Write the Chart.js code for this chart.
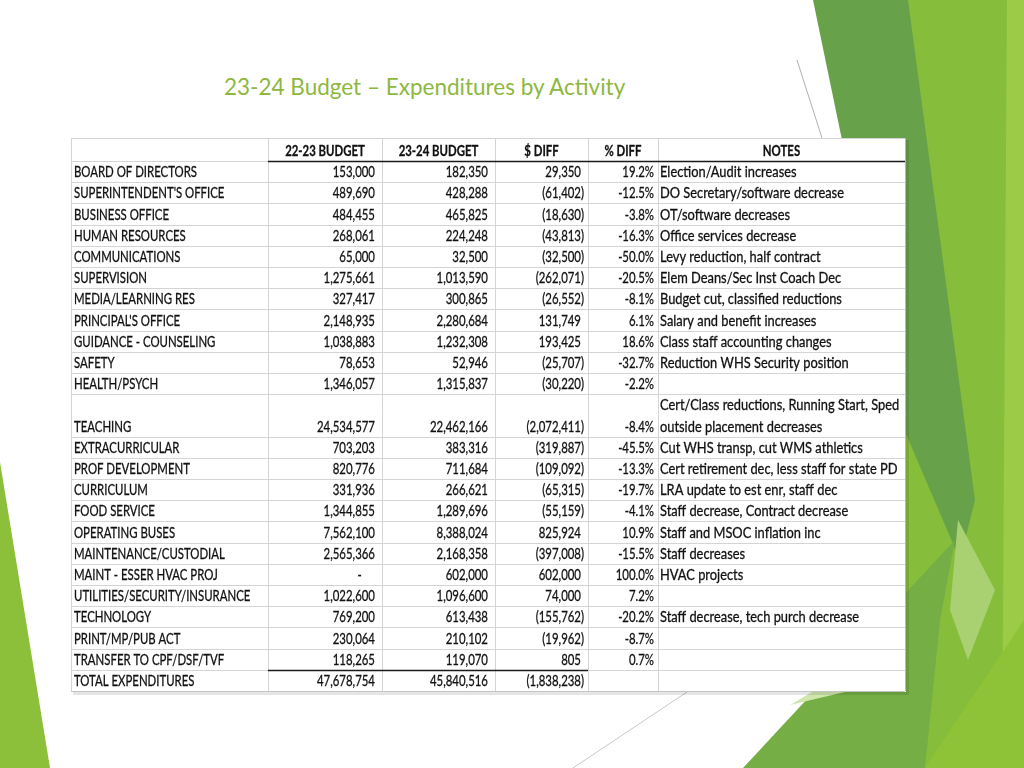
<!DOCTYPE html>
<html>
<head>
<meta charset="utf-8">
<script src="https://cdn.jsdelivr.net/npm/chart.js@4.4.0/dist/chart.umd.min.js"></script>
<style>
  html, body { margin: 0; padding: 0; background: #fff; width: 1024px; height: 768px; overflow: hidden; }
  #bg { position: absolute; left: 0; top: 0; }
  #title {
    position: absolute; left: 224px; top: 76px;
    font-family: Lato, "Open Sans", sans-serif; font-size: 22.5px; line-height: 22px;
    color: #8db83d; white-space: nowrap;
  }
  #wrap { position: absolute; left: 60px; top: 128px; width: 860px; height: 575px; }
</style>
</head>
<body>
<svg id="bg" width="1024" height="768" viewBox="0 0 1024 768">
  <polygon points="0,462 50,768 0,768" fill="#8dc03a"/>
  <polygon points="905,0 1024,0 1024,768 905,768" fill="#86bd3b"/>
  <polygon points="1007,0 1024,0 1024,768 1002,768" fill="#9ccb48"/>
  <polygon points="813,0 908,0 975,500 960,560 900,420" fill="#67a14a"/>
  <polygon points="958,520 995,590 968,660 950,610" fill="#a9d172"/>
  <polygon points="743,768 955,540 940,620 925,768" fill="#74ae45"/>
  <polygon points="925,768 1024,620 1024,768" fill="#8fc337"/>
  <polygon points="790,705 812,692 845,692" fill="#cfe6ad"/>
  <line x1="797" y1="60" x2="822" y2="138" stroke="#b0b0b0" stroke-width="1"/>
  <line x1="573" y1="768" x2="690" y2="690" stroke="#c8c8c8" stroke-width="1"/>
</svg>
<div id="title">23-24 Budget – Expenditures by Activity</div>
<div id="wrap"><canvas id="budgetTable" width="860" height="575"></canvas></div>

<script>
// table data
const headers = ["", "22-23 BUDGET", "23-24 BUDGET", "$ DIFF", "% DIFF", "NOTES"];

const activities = [
    "BOARD OF DIRECTORS", "SUPERINTENDENT'S OFFICE", "BUSINESS OFFICE", "HUMAN RESOURCES",
    "COMMUNICATIONS", "SUPERVISION", "MEDIA/LEARNING RES", "PRINCIPAL'S OFFICE",
    "GUIDANCE - COUNSELING", "SAFETY", "HEALTH/PSYCH", "TEACHING", "EXTRACURRICULAR",
    "PROF DEVELOPMENT", "CURRICULUM", "FOOD SERVICE", "OPERATING BUSES",
    "MAINTENANCE/CUSTODIAL", "MAINT - ESSER HVAC PROJ", "UTILITIES/SECURITY/INSURANCE",
    "TECHNOLOGY", "PRINT/MP/PUB ACT", "TRANSFER TO CPF/DSF/TVF", "TOTAL EXPENDITURES",
];

const budget2223 = [
    153000, 489690, 484455, 268061, 65000, 1275661, 327417, 2148935, 1038883, 78653,
    1346057, 24534577, 703203, 820776, 331936, 1344855, 7562100, 2565366, 0, 1022600,
    769200, 230064, 118265, 47678754,
];

const budget2324 = [
    182350, 428288, 465825, 224248, 32500, 1013590, 300865, 2280684, 1232308, 52946,
    1315837, 22462166, 383316, 711684, 266621, 1289696, 8388024, 2168358, 602000, 1096600,
    613438, 210102, 119070, 45840516,
];

const dollarDiff = [
    29350, -61402, -18630, -43813, -32500, -262071, -26552, 131749, 193425, -25707,
    -30220, -2072411, -319887, -109092, -65315, -55159, 825924, -397008, 602000, 74000,
    -155762, -19962, 805, -1838238,
];

const percentDiff = [
    19.2, -12.5, -3.8, -16.3, -50.0, -20.5, -8.1, 6.1, 18.6, -32.7,
    -2.2, -8.4, -45.5, -13.3, -19.7, -4.1, 10.9, -15.5, 100.0, 7.2,
    -20.2, -8.7, 0.7, null,
];

const notes = [
    "Election/Audit increases", "DO Secretary/software decrease", "OT/software decreases",
    "Office services decrease", "Levy reduction, half contract", "Elem Deans/Sec Inst Coach Dec",
    "Budget cut, classified reductions", "Salary and benefit increases",
    "Class staff accounting changes", "Reduction WHS Security position", "",
    ["Cert/Class reductions, Running Start, Sped", "outside placement decreases"],
    "Cut WHS transp, cut WMS athletics", "Cert retirement dec, less staff for state PD",
    "LRA update to est enr, staff dec", "Staff decrease, Contract decrease",
    "Staff and MSOC inflation inc", "Staff decreases", "HVAC projects", "",
    "Staff decrease, tech purch decrease", "", "", "",
];

// layout
const colEdges = [0, 197, 311, 423, 516, 586, 833];
const headerH = 23;
const rowH = 21.2;
const rowSpans = notes.map((n) => (Array.isArray(n) ? 2 : 1));
const totalH = headerH + rowSpans.reduce((a, b) => a + b, 0) * rowH;

const FONT = "Lato, 'Open Sans', sans-serif";
const FONT_PX = 15.4;
const SCALE_X = 0.74;      // caps and digits
const NOTE_SCALE_X = 0.835; // mixed-case notes run wider in the original
const PAD = 4;

function money(v) {
    const s = Math.abs(v).toLocaleString("en-US");
    return v < 0 ? "(" + s + ")" : s;
}

const tablePlugin = {
    id: "tablePlugin",
    beforeDraw(chart) {
        const { ctx, chartArea: a } = chart;
        ctx.save();
        ctx.fillStyle = "rgba(0,0,0,0.10)";
        ctx.fillRect(a.left + 2, a.top + 2, a.right - a.left + 2, a.bottom - a.top + 2);
        ctx.fillStyle = "#ffffff";
        ctx.fillRect(a.left, a.top, a.right - a.left + 1, a.bottom - a.top + 1);
        ctx.restore();
    },
    afterDraw(chart) {
        const { ctx, scales } = chart;
        const X = (v) => Math.round(scales.x.getPixelForValue(v));
        const Y = (v) => Math.round(scales.y.getPixelForValue(v));

        const tops = [];
        let acc = headerH;
        rowSpans.forEach((s) => { tops.push(acc); acc += s * rowH; });

        const hline = (yv, c0, c1, color, w) => {
            ctx.strokeStyle = color; ctx.lineWidth = w;
            ctx.beginPath();
            ctx.moveTo(X(colEdges[c0]), Y(yv) + 0.5);
            ctx.lineTo(X(colEdges[c1]), Y(yv) + 0.5);
            ctx.stroke();
        };

        ctx.save();
        hline(0, 0, 6, "#d4d4d4", 1);
        hline(headerH, 0, 1, "#d4d4d4", 1);
        tops.forEach((t, i) => { if (i > 0) hline(t, 0, 6, "#d4d4d4", 1); });
        hline(totalH, 0, 6, "#c4c4c4", 1);
        colEdges.forEach((e, i) => {
            ctx.strokeStyle = i === colEdges.length - 1 ? "#b8b8b8" : "#d4d4d4";
            ctx.lineWidth = 1;
            ctx.beginPath();
            ctx.moveTo(X(e) + 0.5, Y(0));
            ctx.lineTo(X(e) + 0.5, Y(totalH));
            ctx.stroke();
        });
        hline(headerH, 1, 6, "#1a1a1a", 1.6);
        hline(tops[tops.length - 1], 1, 4, "#1a1a1a", 1.6);

        const text = (str, px, py, align, bold, sx = SCALE_X) => {
            ctx.save();
            ctx.font = (bold ? "bold " : "") + FONT_PX + "px " + FONT;
            ctx.fillStyle = "#111111";
            ctx.strokeStyle = "#111111";
            ctx.lineWidth = 0.3;
            ctx.textAlign = align;
            ctx.textBaseline = "alphabetic";
            ctx.translate(px, py);
            ctx.scale(sx, 1);
            ctx.fillText(str, 0, 0);
            ctx.strokeText(str, 0, 0);
            ctx.restore();
        };
        ctx.font = FONT_PX + "px " + FONT;
        const paren = ctx.measureText(")").width * SCALE_X;
        const digit = ctx.measureText("0").width * SCALE_X;

        headers.forEach((h, c) => {
            if (!h) return;
            const cx = (X(colEdges[c]) + X(colEdges[c + 1])) / 2;
            text(h, cx, Y(headerH) - 5, "center", true);
        });

        const numCell = (v, c, by) => {
            const right = X(colEdges[c + 1]) - PAD;
            if (v === 0) text("-", right - paren - 2 * digit, by, "right");
            else if (v < 0) text(money(v), right, by, "right");
            else text(money(v), right - paren, by, "right");
        };

        activities.forEach((name, i) => {
            const bottom = Y(tops[i] + rowSpans[i] * rowH) - 5;
            text(name, X(colEdges[0]) + 3, bottom, "left");
            numCell(budget2223[i], 1, bottom);
            numCell(budget2324[i], 2, bottom);
            numCell(dollarDiff[i], 3, bottom);
            if (percentDiff[i] !== null) {
                text(percentDiff[i].toFixed(1) + "%", X(colEdges[5]) - PAD, bottom, "right");
            }
            const n = notes[i];
            const lines = Array.isArray(n) ? n : [n];
            lines.forEach((ln, k) => {
                const by = Y(tops[i] + (k + 1) * rowH) - 5;
                text(ln, X(colEdges[5]) + 2, by, "left", false, NOTE_SCALE_X);
            });
        });
        ctx.restore();
    },
};

new Chart(document.getElementById("budgetTable"), {
    type: "scatter",
    data: { datasets: [{ data: [], pointRadius: 0 }] },
    options: {
        responsive: false,
        animation: false,
        devicePixelRatio: 1,
        layout: { padding: { left: 11, top: 10, right: 15, bottom: 12 } },
        scales: {
            x: { type: "linear", min: 0, max: colEdges[colEdges.length - 1], display: false },
            y: { type: "linear", min: 0, max: totalH, reverse: true, display: false },
        },
        plugins: { legend: { display: false }, tooltip: { enabled: false } },
    },
    plugins: [tablePlugin],
});
</script>
</body>
</html>
